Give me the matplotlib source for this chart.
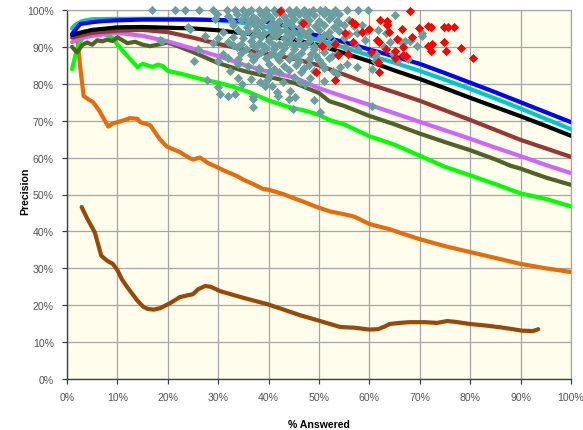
import matplotlib
matplotlib.use("Agg")
import matplotlib.pyplot as plt

plt.rcParams['font.family'] = ['Liberation Sans', 'DejaVu Sans']

# ---------------- data (percent) ----------------
blue_x = [1, 2, 2.6, 4, 5, 7, 10, 15, 20, 25, 30, 35, 40, 43, 46, 50, 55, 60, 65, 70, 75, 80, 85, 90, 95, 100]
blue_y = [93.5, 95.2, 96.2, 96.5, 96.7, 97.0, 97.2, 97.4, 97.4, 97.4, 97.3, 97.1, 96.7, 95.8, 94.3, 93.0, 91.3, 89.3, 87.4, 85.4, 82.9, 80.3, 77.7, 75.0, 72.3, 69.6]

cyan_x = [1, 1.5, 3, 5, 10, 15, 20, 25, 30, 35, 40, 45, 50, 55, 60, 65, 70, 75, 80, 85, 90, 95, 100]
cyan_y = [95.0, 95.8, 97.0, 97.5, 97.6, 97.6, 97.6, 97.5, 97.2, 96.5, 95.2, 93.6, 91.8, 89.8, 87.7, 85.7, 83.5, 81.1, 78.6, 76.0, 73.3, 70.5, 67.7]

black_x = [1, 3, 5, 10, 15, 20, 25, 30, 36, 40, 45, 50, 55, 60, 65, 70, 75, 80, 85, 90, 95, 100]
black_y = [93.2, 94.0, 94.6, 95.3, 95.4, 95.2, 95.0, 94.5, 93.5, 92.9, 91.9, 90.5, 88.3, 86.1, 83.6, 81.3, 78.8, 76.2, 73.7, 71.2, 68.6, 65.9]

brown_x = [1, 3, 5, 10, 15, 20, 25, 30, 35, 40, 45, 50, 55, 60, 65, 70, 75, 80, 85, 90, 95, 100]
brown_y = [92.5, 93.2, 93.8, 94.4, 94.6, 94.0, 92.5, 90.8, 89.3, 88.0, 86.8, 85.0, 82.5, 79.9, 77.7, 75.4, 72.8, 70.2, 67.5, 64.8, 62.5, 60.2]

violet_x = [1, 3, 5, 10, 15, 20, 25, 30, 35, 40, 45, 50, 55, 60, 65, 70, 75, 80, 85, 90, 95, 100]
violet_y = [91.3, 92.5, 93.0, 93.8, 93.0, 91.5, 89.5, 87.5, 85.2, 83.2, 81.8, 78.8, 76.5, 74.3, 72.0, 69.7, 67.4, 65.1, 62.7, 60.4, 58.0, 55.8]

olive_x = [1, 2, 3, 4, 5, 6, 7, 8, 9, 10, 12, 13.5, 15, 16.5, 18, 20, 22, 25, 30, 35, 40, 45, 50, 52, 55, 60, 65, 70, 75, 80, 85, 88, 90, 95, 100]
olive_y = [90.0, 88.5, 90.5, 91.2, 90.6, 91.8, 91.5, 92.0, 91.6, 92.6, 91.0, 91.4, 90.6, 90.2, 90.6, 91.2, 90.2, 88.6, 85.6, 83.5, 81.9, 80.3, 77.5, 75.3, 74.0, 71.3, 69.0, 66.5, 64.2, 62.0, 59.5, 57.8, 57.0, 54.6, 52.6]

green_x = [1, 2, 3, 4, 6, 8, 9, 10, 11, 12, 13, 14, 15, 16, 17, 18, 19, 20, 23, 26, 30, 33, 36, 40, 44, 47, 50, 52, 55, 60, 65, 70, 75, 80, 85, 90, 95, 100]
green_y = [84.0, 89.5, 92.3, 93.0, 94.0, 93.2, 92.5, 90.6, 89.0, 87.5, 86.0, 84.5, 85.4, 85.0, 84.6, 85.2, 84.8, 83.5, 82.6, 81.5, 80.3, 79.2, 77.8, 75.5, 73.7, 72.8, 71.6, 70.2, 69.0, 65.8, 63.5, 60.5, 57.5, 55.2, 52.8, 50.3, 48.8, 46.8]

orange_x = [2, 2.5, 3.3, 4, 5.2, 6.5, 7.5, 8.2, 9, 10, 11, 12.5, 14, 14.5, 16.5, 18.4, 19.8, 21, 22.4, 24.4, 25, 26.4, 28, 29.8, 31, 33.7, 35, 37, 38.9, 40, 42.9, 45, 47, 49.6, 52.2, 54.8, 57, 60, 64, 67, 70, 75, 80, 85, 90, 95, 100]
orange_y = [94.0, 86.0, 76.7, 76.0, 75.0, 72.5, 70.0, 68.4, 69.2, 69.6, 70.0, 70.7, 70.5, 69.6, 68.8, 65.0, 63.0, 62.3, 61.5, 59.8, 59.5, 60.0, 58.5, 57.4, 56.6, 55.0, 54.0, 52.8, 51.5, 51.3, 50.1, 49.0, 48.0, 46.6, 45.4, 44.7, 44.0, 42.0, 40.6, 39.2, 37.9, 36.0, 34.4, 32.8, 31.2, 30.0, 29.0]

darkbrown_x = [2.9, 4, 5.5, 6.8, 8, 9.1, 10, 10.9, 12, 13, 14, 15.2, 16, 17.2, 18.5, 20.5, 22.4, 25, 26, 27.4, 28.5, 30.4, 35, 39.7, 43, 46.2, 50, 54.2, 57, 60, 61.7, 63, 64, 66, 68, 71, 73.4, 75.4, 77, 80, 83, 86, 88, 90.3, 92.5, 93.5]
darkbrown_y = [46.6, 43.5, 39.8, 33.4, 32.0, 31.2, 29.5, 27.0, 24.8, 23.0, 21.2, 19.5, 19.0, 18.8, 19.2, 20.6, 22.2, 23.0, 24.3, 25.2, 25.0, 23.8, 22.0, 20.3, 18.8, 17.3, 15.8, 14.1, 13.9, 13.4, 13.5, 14.2, 14.9, 15.2, 15.4, 15.4, 15.2, 15.7, 15.5, 14.9, 14.5, 14.0, 13.6, 13.1, 13.0, 13.5]

teal_x = (
    [16.8, 21.4, 23.4, 26.1, 29.0, 31.7, 33.3, 35.0, 36.5, 38.0, 39.5, 41.0, 42.5, 44.0, 45.5, 47.0, 48.9, 50.2, 51.2, 53.2, 55.5, 57.8, 59.8]
    + [29.7, 32.0, 33.7, 35.3, 37.0, 38.5, 40.0, 41.5, 43.0, 44.5, 46.0, 47.5, 49.0, 51.0, 52.5, 54.0, 65.1]
    + [36.0, 39.0, 42.0, 45.0, 48.0, 52.0]
    + [29.4, 32.7, 34.5, 36.0, 37.5, 39.0, 40.5, 42.0, 43.5, 45.0, 46.5, 48.0, 50.0, 52.0, 53.5, 56.0, 63.4]
    + [38.0, 41.0, 44.0, 47.0, 50.0, 54.0]
    + [24.1, 33.0, 35.7, 37.2, 38.7, 40.2, 41.7, 43.2, 44.7, 46.2, 47.7, 49.2, 51.0, 53.0, 55.0, 57.0, 58.5]
    + [24.4, 31.0, 34.0, 36.0, 37.5, 39.0, 40.5, 42.0, 43.5, 45.0, 46.5, 48.0, 50.0, 52.0, 54.0, 57.5, 59.5, 61.8, 63.3, 70.4]
    + [35.0, 38.0, 41.0, 44.0, 47.0, 51.0, 56.0]
    + [18.5, 27.4, 30.0, 33.0, 35.0, 37.0, 38.5, 40.0, 41.5, 43.0, 44.5, 46.0, 48.0, 50.0, 52.0, 55.0, 59.1, 66.1, 68.1, 70.4]
    + [18.8, 29.0, 32.0, 34.5, 36.5, 38.0, 40.0, 42.0, 44.0, 46.0, 48.0, 50.5, 53.0, 57.0, 64.1, 67.1, 69.4]
    + [33.0, 37.0, 39.0, 41.0, 43.0, 45.0, 47.0, 49.0, 52.0]
    + [26.0, 33.7, 35.5, 37.5, 39.5, 41.0, 43.0, 45.0, 47.0, 49.0, 51.0, 55.2, 57.8, 62.8, 64.7]
    + [31.0, 34.5, 36.5, 38.5, 40.5, 42.5, 44.5, 46.5, 48.5, 51.0, 53.5, 61.4]
    + [37.5, 41.5, 45.5, 49.5, 52.5]
    + [25.1, 30.0, 32.0, 34.0, 37.0, 39.5, 42.0, 44.0, 46.0, 48.0, 50.0, 52.0, 61.1, 65.4, 67.7]
    + [34.0, 36.0, 40.0, 43.0, 45.5, 48.0, 50.5, 54.2, 55.5, 57.5]
    + [38.0, 41.0, 47.0, 51.0]
    + [32.3, 38.0, 40.3, 42.0, 44.0, 46.5, 49.0, 52.8, 60.5]
    + [34.0, 36.6, 40.0, 45.0, 48.2, 53.5]
    + [27.7, 38.3, 39.6, 42.9, 46.2, 51.0]
    + [30.0, 34.7, 39.3, 40.6, 44.2, 47.2]
    + [30.4, 32.0, 33.3, 37.0, 41.6, 41.9, 45.2]
    + [37.0, 44.0, 49.0]
    + [37.0, 44.9, 60.5]
    + [50.2]
)
teal_y = (
    [100.0] * 23
    + [98.9, 98.4, 99.0, 98.6, 98.2, 98.8, 98.5, 99.1, 98.3, 98.7, 98.9, 98.4, 98.6, 99.0, 98.3, 98.8, 98.6]
    + [99.4, 99.2, 99.5, 99.3, 99.4, 99.2]
    + [97.6, 97.1, 97.4, 96.9, 97.5, 97.2, 97.7, 97.0, 97.3, 97.6, 96.8, 97.4, 97.1, 97.5, 97.0, 97.3, 96.2]
    + [96.5, 96.3, 96.6, 96.4, 96.6, 96.5]
    + [95.3, 95.9, 95.5, 96.1, 95.6, 95.9, 95.4, 96.0, 95.7, 95.3, 96.1, 95.6, 95.8, 95.4, 96.0, 95.6, 95.9]
    + [94.9, 94.0, 94.5, 94.2, 94.7, 93.9, 94.4, 94.1, 94.6, 94.0, 94.5, 94.2, 94.7, 94.0, 94.4, 93.9, 94.3, 94.5, 93.9, 93.8]
    + [93.4, 93.6, 93.3, 93.5, 93.6, 93.3, 93.5]
    + [92.0, 93.0, 92.5, 92.8, 92.3, 93.0, 92.6, 92.2, 92.9, 92.4, 92.8, 92.1, 92.7, 92.4, 92.9, 92.5, 92.0, 91.7, 91.7, 93.0]
    + [91.7, 91.0, 91.4, 90.9, 91.5, 91.1, 91.6, 90.8, 91.3, 91.0, 91.5, 90.9, 91.4, 91.1, 91.2, 91.7, 90.3]
    + [90.4, 90.6, 90.3, 90.5, 90.6, 90.4, 90.5, 90.3, 90.5]
    + [89.4, 89.9, 89.5, 90.0, 89.6, 89.3, 89.8, 89.5, 90.0, 89.4, 89.7, 89.9, 89.4, 89.9, 88.1]
    + [88.0, 88.4, 87.9, 88.5, 88.1, 88.3, 87.8, 88.4, 88.0, 88.5, 88.1, 88.1]
    + [87.4, 87.6, 87.3, 87.5, 87.4]
    + [86.3, 86.3, 87.1, 86.8, 86.4, 86.9, 86.5, 86.8, 86.2, 86.7, 86.5, 86.9, 86.3, 86.3, 86.7]
    + [85.4, 84.9, 85.3, 84.8, 85.2, 85.0, 85.4, 84.5, 85.4, 84.5]
    + [84.3, 84.1, 84.4, 84.2]
    + [83.5, 83.8, 83.5, 83.2, 83.7, 83.3, 83.6, 83.5, 84.0]
    + [81.7, 81.3, 82.2, 81.9, 81.7, 82.7]
    + [80.9, 80.4, 80.9, 80.4, 80.4, 80.8]
    + [79.0, 79.9, 79.5, 79.5, 78.1, 79.9]
    + [77.2, 76.8, 77.2, 76.8, 77.7, 76.8, 76.3]
    + [75.9, 76.0, 75.5]
    + [73.6, 73.2, 74.1]
    + [72.3]
)

red_x = [46.9, 68.1, 56.5, 57.1, 62.1, 63.4, 63.5, 71.7, 72.2, 69.9, 74.8, 75.5, 76.8, 58.6, 60.0,
         63.9, 66.5, 55.2, 61.6, 65.4, 56.8, 53.2, 50.5, 71.7, 72.4, 74.8, 63.3, 65.1, 66.7, 60.3,
         55.8, 53.8, 72.2, 75.1, 78.1, 80.6, 65.1, 66.6, 67.3, 61.8, 62.0, 42.3, 49.5, 53.2, 68.4, 62.0]
red_y = [96.5, 99.8, 96.8, 96.2, 97.4, 97.1, 95.9, 95.7, 95.3, 95.0, 95.3, 95.3, 95.3, 94.1, 94.9,
         94.1, 94.9, 93.9, 92.0, 92.1, 91.2, 90.9, 90.3, 90.3, 90.8, 91.2, 89.4, 89.0, 90.1, 88.5,
         88.2, 87.8, 88.8, 88.8, 89.6, 87.1, 87.1, 87.8, 87.6, 86.0, 83.3, 99.8, 83.1, 80.9, 92.6, 91.3]

xticks = [0, 10, 20, 30, 40, 50, 60, 70, 80, 90, 100]
yticks = [0, 10, 20, 30, 40, 50, 60, 70, 80, 90, 100]
tick_labels = ["0%", "10%", "20%", "30%", "40%", "50%", "60%", "70%", "80%", "90%", "100%"]

series = [
    (darkbrown_x, darkbrown_y, "#984807"),
    (orange_x, orange_y, "#E46C0A"),
    (green_x, green_y, "#00FF00"),
    (olive_x, olive_y, "#4F6228"),
    (violet_x, violet_y, "#CC66FF"),
    (brown_x, brown_y, "#953735"),
    (black_x, black_y, "#000000"),
    (cyan_x, cyan_y, "#00C8C8"),
    (blue_x, blue_y, "#0000FF"),
]

# ---------------- figure ----------------
fig = plt.figure(figsize=(5.83, 4.31), dpi=100)
ax = fig.add_axes([67 / 583, 51 / 431, 504 / 583, 369 / 431])
ax.set_facecolor("#FFFDEB")

for xs, ys, c in series:
    ax.plot(xs, ys, color=c, lw=3.0, solid_capstyle="round", solid_joinstyle="round", zorder=3)

ax.scatter(teal_x, teal_y, marker="D", s=22, color="#6A9EA0", linewidths=0, zorder=4, clip_on=False)
ax.scatter(red_x, red_y, marker="D", s=22, color="#FF0000", linewidths=0, zorder=5, clip_on=False)

ax.set_xlim(0, 100)
ax.set_ylim(0, 100)
ax.set_xticks(xticks)
ax.set_xticklabels(tick_labels)
ax.set_yticks(yticks)
ax.set_yticklabels(tick_labels)

ax.grid(True, color="#A6A6A6", lw=0.9, zorder=1)
ax.set_axisbelow(True)
for side in ["top", "right"]:
    ax.spines[side].set_color("#A6A6A6")
    ax.spines[side].set_linewidth(0.9)
for side in ["left", "bottom"]:
    ax.spines[side].set_color("#404040")
    ax.spines[side].set_linewidth(1.0)

ax.tick_params(axis="both", direction="out", length=3.5, width=0.9, color="#404040",
               labelsize=7.6, labelcolor="#555555", pad=6)

ax.set_xlabel("% Answered", fontsize=7.6, fontweight="bold")
ax.set_ylabel("Precision", fontsize=7.6, fontweight="bold")
ax.xaxis.set_label_coords(0.5, -0.108)
ax.yaxis.set_label_coords(-0.072, 0.51)

fig.savefig("out.png", dpi=100)
